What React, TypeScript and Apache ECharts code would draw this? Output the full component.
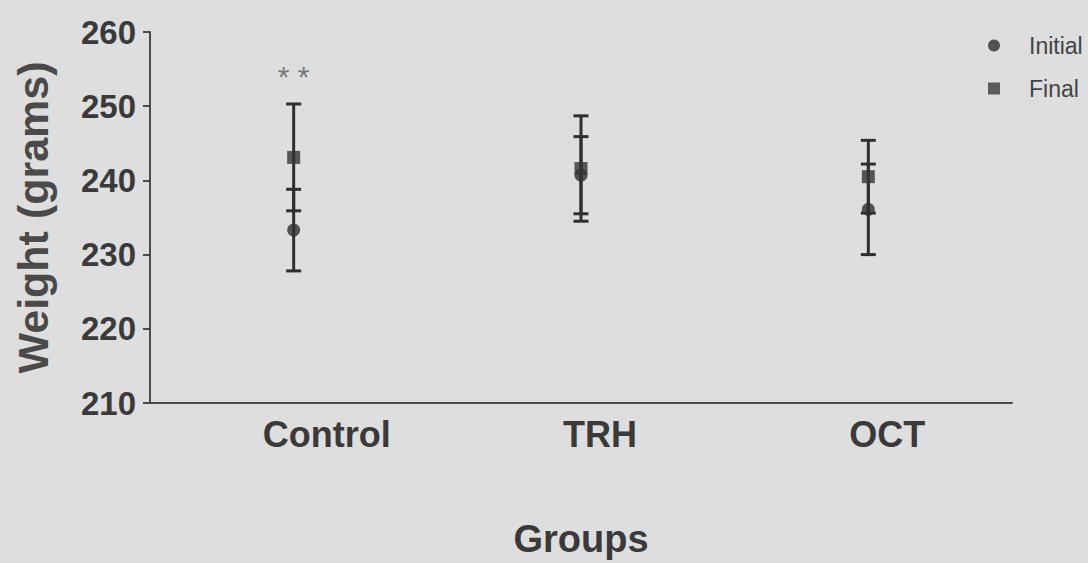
import React, { useEffect, useRef } from "react";
import * as echarts from "echarts";

const categories = ["Control", "TRH", "OCT"];
const initialMean = [233.3, 240.7, 236.1];
const initialSD = [5.5, 5.2, 6.1];
const finalMean = [243.1, 241.6, 240.5];
const finalSD = [7.2, 7.1, 4.9];
const yTicks = { min: 210, max: 260, interval: 10 };
const annotation = { category: "Control", value: 254.0, text: "* *" };

const ink = "#2f2f2f";
const font = "Liberation Sans, Arial, sans-serif";
const labelShift: Record<string, number> = { Control: 66, TRH: 38, OCT: 38 };

export default function App() {
  const ref = useRef<HTMLDivElement>(null);
  useEffect(() => {
    if (!ref.current) return;
    const chart = echarts.init(ref.current, undefined, { renderer: "svg" });
    const errData = (m: number[], s: number[]) =>
      m.map((v, i) => [i, v - s[i], v + s[i]]);
    const renderErr = (params: any, api: any) => {
      const x = api.value(0);
      const lo = api.coord([x, api.value(1)]);
      const hi = api.coord([x, api.value(2)]);
      const hw = 7.5;
      const style = { stroke: ink, lineWidth: 3 };
      return {
        type: "group",
        children: [
          { type: "line", shape: { x1: lo[0], y1: lo[1], x2: hi[0], y2: hi[1] }, style },
          { type: "line", shape: { x1: lo[0] - hw, y1: lo[1], x2: lo[0] + hw, y2: lo[1] }, style },
          { type: "line", shape: { x1: hi[0] - hw, y1: hi[1], x2: hi[0] + hw, y2: hi[1] }, style },
        ],
      };
    };
    chart.setOption({
      animation: false,
      backgroundColor: "#dedede",
      textStyle: { fontFamily: font },
      grid: { left: 150, right: 76, top: 32, bottom: 160, containLabel: false, outerBoundsMode: "none" },
      legend: {
        orient: "vertical",
        left: 983,
        top: 29,
        itemGap: 20,
        itemWidth: 12,
        itemHeight: 12,
        textStyle: { fontSize: 23, color: "#444", fontFamily: font, padding: [0, 0, 0, 24] },
        data: [
          { name: "Initial", icon: "circle", itemStyle: { color: ink } },
          { name: "Final", icon: "rect", itemStyle: { color: "#3a3a3a" } },
        ],
      },
      xAxis: {
        type: "category",
        data: categories.map((c) => ({
          value: c,
          textStyle: { padding: [0, 0, 0, labelShift[c] || 0] },
        })),
        boundaryGap: true,
        axisLine: { lineStyle: { color: "#4a4a4a", width: 2 } },
        axisTick: { alignWithLabel: true, length: 7, lineStyle: { color: "#4a4a4a", width: 2 } },
        axisLabel: { fontSize: 36, fontWeight: "bold", color: "#3a3a3a", margin: 13, fontFamily: font },
        name: "Groups",
        nameLocation: "middle",
        nameGap: 117,
        nameTextStyle: { fontSize: 38, fontWeight: "bold", color: "#3a3a3a", fontFamily: font },
      },
      yAxis: {
        type: "value",
        min: yTicks.min,
        max: yTicks.max,
        interval: yTicks.interval,
        splitLine: { show: false },
        axisLine: { show: true, lineStyle: { color: "#4a4a4a", width: 2 } },
        axisTick: { show: true, length: 7, lineStyle: { color: "#4a4a4a", width: 2 } },
        axisLabel: { fontSize: 33, fontWeight: "bold", color: "#3a3a3a", margin: 14, fontFamily: font },
        name: "Weight (grams)",
        nameLocation: "middle",
        nameGap: 96,
        nameTextStyle: { fontSize: 43, fontWeight: "bold", color: "#4a4a4a", fontFamily: font },
      },
      series: [
        {
          name: "InitialErr",
          type: "custom",
          renderItem: renderErr,
          data: errData(initialMean, initialSD),
          z: 1,
        },
        {
          name: "FinalErr",
          type: "custom",
          renderItem: renderErr,
          data: errData(finalMean, finalSD),
          z: 1,
        },
        {
          name: "Initial",
          type: "scatter",
          symbol: "circle",
          symbolSize: 13,
          itemStyle: { color: ink },
          data: initialMean,
          z: 3,
        },
        {
          name: "Final",
          type: "scatter",
          symbol: "rect",
          symbolSize: 13,
          itemStyle: { color: "#333333" },
          data: finalMean,
          z: 4,
          markPoint: {
            symbol: "circle",
            symbolSize: 0,
            data: [{ coord: [annotation.category, annotation.value] }],
            label: {
              show: true,
              position: "inside",
              formatter: annotation.text,
              fontSize: 30,
              color: "#7a7a7a",
              fontFamily: font,
            },
          },
        },
      ],
    });
    return () => chart.dispose();
  }, []);
  return (
    <div
      ref={ref}
      style={{ position: "fixed", left: 0, top: 0, width: 1088, height: 563 }}
    />
  );
}
